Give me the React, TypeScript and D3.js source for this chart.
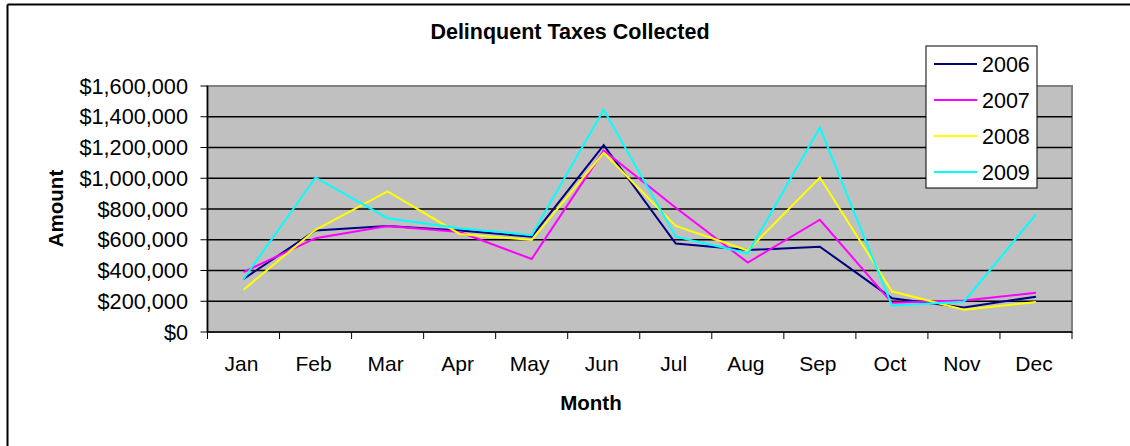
import React from "react";
import * as d3 from "d3";

const months = ["Jan", "Feb", "Mar", "Apr", "May", "Jun", "Jul", "Aug", "Sep", "Oct", "Nov", "Dec"];
const series2006 = [345000, 660000, 690000, 660000, 620000, 1215000, 575000, 533000, 555000, 220000, 160000, 230000];
const series2007 = [390000, 610000, 690000, 650000, 475000, 1180000, 808000, 452000, 730000, 190000, 205000, 255000];
const series2008 = [275000, 665000, 915000, 638000, 598000, 1166000, 690000, 530000, 1005000, 265000, 145000, 195000];
const series2009 = [345000, 1005000, 740000, 675000, 630000, 1445000, 620000, 512000, 1330000, 172000, 197000, 765000];
const seriesNames = ["2006", "2007", "2008", "2009"];
const seriesColors = ["#000080", "#FF00FF", "#FFFF00", "#00FFFF"];
const yTicks = [0, 200000, 400000, 600000, 800000, 1000000, 1200000, 1400000, 1600000];

const W = 1130;
const H = 446;
const plot = { left: 207.5, right: 1072, top: 86, bottom: 332 };
const font = "'Liberation Sans', Arial, sans-serif";

export default function App() {
  const allSeries = [series2006, series2007, series2008, series2009];
  const x = d3.scaleBand<string>().domain(months).range([plot.left, plot.right]).padding(0);
  const y = d3.scaleLinear().domain([0, 1600000]).range([plot.bottom, plot.top]);
  const line = d3
    .line<number>()
    .x((_, i) => (x(months[i]) as number) + x.bandwidth() / 2)
    .y((d) => y(d));
  const fmt = (v: number) => "$" + d3.format(",")(v);
  const boundaries = months.map((m) => x(m) as number).concat([plot.right]);

  return (
    <svg
      width={W}
      height={H}
      style={{ position: "absolute", left: 0, top: 0, background: "#fff" }}
      fontFamily={font}
    >
      <rect x={0} y={0} width={W} height={H} fill="#fff" />
      {/* outer chart border (left and top) */}
      <line x1={7.5} y1={4.5} x2={W} y2={4.5} stroke="#000" strokeWidth={2} />
      <line x1={7.5} y1={4.5} x2={7.5} y2={H} stroke="#000" strokeWidth={2} />

      {/* title */}
      <text x={570} y={38.5} textAnchor="middle" fontSize={21.5} fontWeight="bold">
        Delinquent Taxes Collected
      </text>

      {/* plot area */}
      <rect
        x={plot.left}
        y={plot.top}
        width={plot.right - plot.left}
        height={plot.bottom - plot.top}
        fill="#C0C0C0"
        stroke="#808080"
        strokeWidth={2}
      />
      {yTicks.slice(1, -1).map((t) => (
        <line key={t} x1={plot.left} x2={plot.right} y1={y(t)} y2={y(t)} stroke="#000" strokeWidth={1.5} />
      ))}

      {/* axes */}
      <line x1={plot.left} x2={plot.left} y1={plot.top} y2={plot.bottom} stroke="#000" strokeWidth={1.5} />
      <line x1={plot.left} x2={plot.right} y1={plot.bottom} y2={plot.bottom} stroke="#000" strokeWidth={1.5} />
      {yTicks.map((t) => (
        <g key={"yt" + t}>
          <line x1={plot.left - 7} x2={plot.left} y1={y(t)} y2={y(t)} stroke="#000" strokeWidth={1} />
          <text x={188} y={y(t) + 7.5} textAnchor="end" fontSize={21.7}>
            {fmt(t)}
          </text>
        </g>
      ))}
      {boundaries.map((b, i) => (
        <line key={"xt" + i} x1={b} x2={b} y1={plot.bottom} y2={plot.bottom + 7} stroke="#000" strokeWidth={1} />
      ))}
      {months.map((m) => (
        <text key={m} x={(x(m) as number) + x.bandwidth() / 2 - 2} y={370.5} textAnchor="middle" fontSize={21}>
          {m}
        </text>
      ))}

      {/* axis titles */}
      <text x={591} y={410} textAnchor="middle" fontSize={20.5} fontWeight="bold">
        Month
      </text>
      <text
        transform={`translate(63,208.5) rotate(-90)`}
        textAnchor="middle"
        fontSize={20.5}
        fontWeight="bold"
      >
        Amount
      </text>

      {/* series lines */}
      {allSeries.map((s, i) => (
        <path key={seriesNames[i]} d={line(s) || ""} fill="none" stroke={seriesColors[i]} strokeWidth={2} />
      ))}

      {/* legend */}
      <rect x={926} y={46} width={111} height={142} fill="#fff" stroke="#000" strokeWidth={1} />
      {seriesNames.map((n, i) => {
        const cy = 64 + i * 36;
        return (
          <g key={"lg" + n}>
            <line x1={934} x2={977} y1={cy} y2={cy} stroke={seriesColors[i]} strokeWidth={2} />
            <text x={982} y={cy + 7.5} fontSize={21.5}>
              {n}
            </text>
          </g>
        );
      })}
    </svg>
  );
}
